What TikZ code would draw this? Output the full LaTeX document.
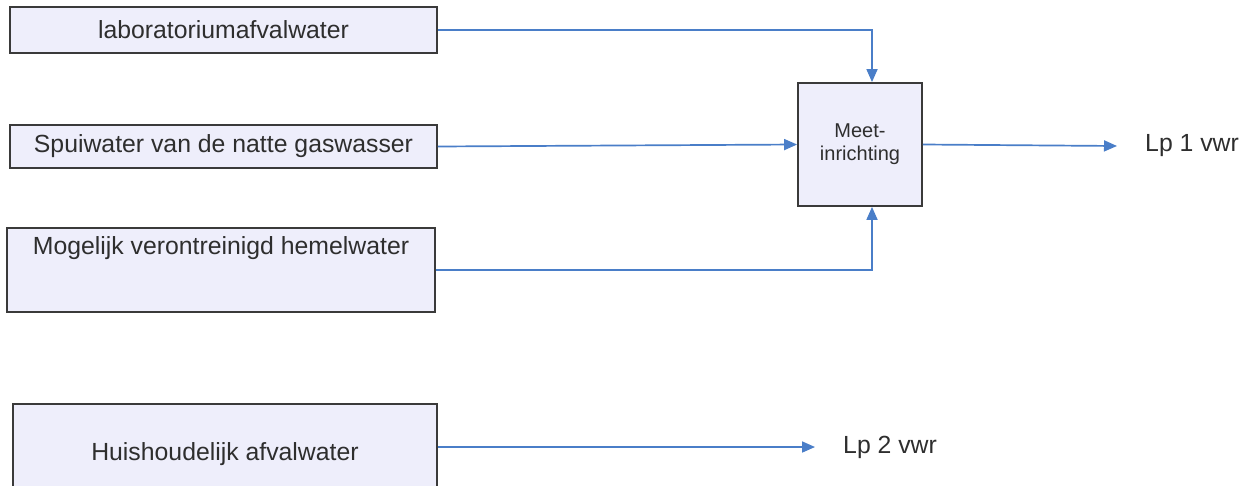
\documentclass[tikz,border=0pt]{standalone}
\usepackage{fontspec}
\setmainfont{Liberation Sans}
\usetikzlibrary{arrows.meta}
\definecolor{flowblue}{HTML}{4A7EC8}
\definecolor{boxfill}{HTML}{EEEEFB}
\definecolor{boxline}{HTML}{3A3A3A}
\begin{document}
\begin{tikzpicture}[x=1pt,y=-1pt,
  txt/.style={font=\fontsize{24.8}{28}\selectfont, text=black!82},
  box/.style={draw=boxline, line width=1.8pt, fill=boxfill, inner sep=0pt, txt},
  flow/.style={draw=flowblue, line width=1.7pt, -{Triangle[length=13pt,width=11pt]}},
  lbl/.style={txt, anchor=west, inner sep=0pt}]
\useasboundingbox (0,0) rectangle (1252,485);
\node[box, minimum width=427pt, minimum height=46pt] (lab) at (223.5,30) {laboratoriumafvalwater};
\node[box, minimum width=427pt, minimum height=43pt] (spui) at (223.5,146.5) {Spuiwater van de natte gaswasser};
\node[box, minimum width=428pt, minimum height=84pt] (hemel) at (221,270) {};
\node[txt, inner sep=0pt] (hemeltxt) at (221,248) {Mogelijk verontreinigd hemelwater};
\node[box, minimum width=424pt, minimum height=101pt] (huis) at (225,454.5) {Huishoudelijk afvalwater};
\node[box, minimum width=124pt, minimum height=123pt, align=center,
  font=\fontsize{20}{23}\selectfont] (meet) at (860,144.5) {Meet-\\inrichting};
\node[lbl] (lp1) at (1145,146) {Lp 1 vwr};
\node[lbl] (lp2) at (843,447) {Lp 2 vwr};
\draw[flow] (lab.east) -| ([xshift=12pt]meet.north);
\draw[flow] (spui.east) -- (meet.west);
\draw[flow] (hemel.east) -| ([xshift=12pt]meet.south);
\draw[flow] (meet.east) -- ([xshift=-28pt]lp1.west);
\draw[flow] (huis.east |- lp2.west) -- ([xshift=-28pt]lp2.west);
\end{tikzpicture}
\end{document}
